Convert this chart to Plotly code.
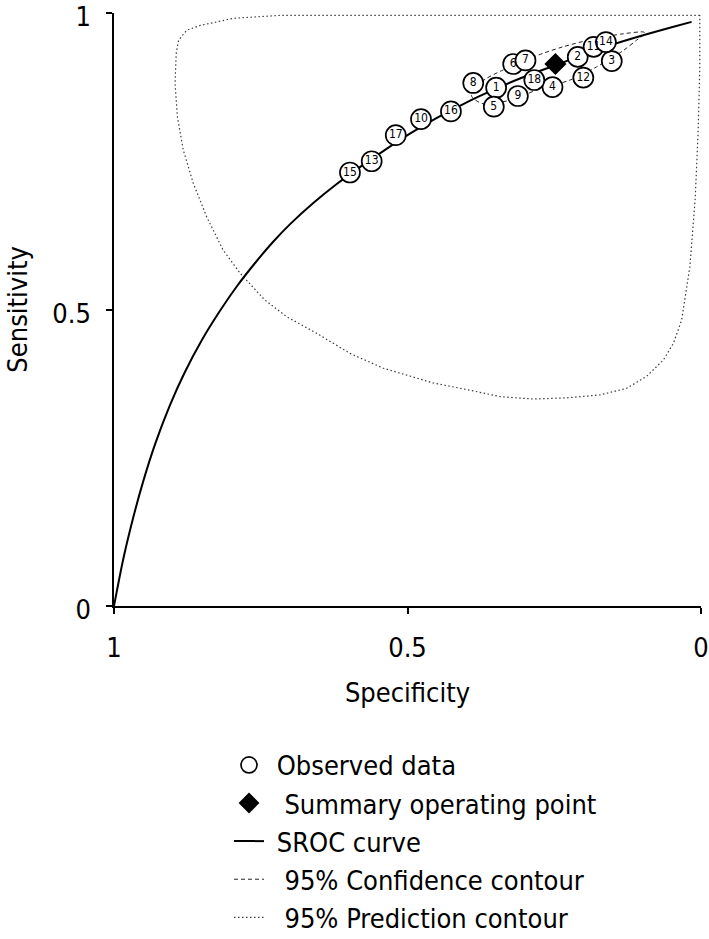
import plotly.graph_objects as go

# ---------------- data ----------------
study_ids = ["1", "2", "3", "4", "5", "6", "7", "8", "9", "10",
             "11", "12", "13", "14", "15", "16", "17", "18"]
study_spec = [0.349, 0.210, 0.152, 0.253, 0.353, 0.320, 0.299, 0.388, 0.312, 0.477,
              0.183, 0.2005, 0.561, 0.162, 0.598, 0.426, 0.520, 0.284]
study_sens = [0.874, 0.926, 0.919, 0.875, 0.842, 0.914, 0.920, 0.882, 0.860, 0.821,
              0.943, 0.891, 0.750, 0.951, 0.731, 0.834, 0.794, 0.887]

summary_spec = [0.248]
summary_sens = [0.914]

sroc_spec = [1.0, 0.984, 0.967, 0.950, 0.930, 0.905, 0.880, 0.850, 0.820, 0.790,
             0.760, 0.730, 0.700, 0.660, 0.620, 0.580, 0.540, 0.500, 0.450, 0.400,
             0.350, 0.300, 0.250, 0.200, 0.150, 0.100, 0.050, 0.016]
sroc_sens = [0.0, 0.080, 0.150, 0.211, 0.273, 0.338, 0.393, 0.449, 0.497, 0.540,
             0.578, 0.613, 0.644, 0.680, 0.712, 0.741, 0.768, 0.794, 0.823, 0.849,
             0.872, 0.893, 0.911, 0.930, 0.947, 0.962, 0.976, 0.985]

conf_spec = [0.391, 0.383, 0.365, 0.337, 0.308, 0.269, 0.235, 0.184, 0.132, 0.098,
             0.095, 0.110, 0.132, 0.178, 0.223, 0.280, 0.325, 0.371, 0.388, 0.391]
conf_sens = [0.861, 0.877, 0.890, 0.904, 0.917, 0.932, 0.943, 0.956, 0.965, 0.968,
             0.966, 0.954, 0.937, 0.909, 0.887, 0.870, 0.853, 0.847, 0.856, 0.861]

pred_spec = [0.002, 0.513, 0.717, 0.797, 0.853, 0.876, 0.890, 0.894, 0.896, 0.892,
             0.882, 0.865, 0.842, 0.814, 0.785, 0.743, 0.706, 0.655, 0.598, 0.541,
             0.456, 0.399, 0.342, 0.286, 0.229, 0.172, 0.127, 0.093, 0.064, 0.047,
             0.033, 0.019, 0.010, 0.005, 0.002, 0.002]
pred_sens = [0.996, 0.996, 0.996, 0.991, 0.979, 0.971, 0.954, 0.932, 0.881, 0.825,
             0.769, 0.713, 0.656, 0.600, 0.561, 0.516, 0.488, 0.460, 0.426, 0.401,
             0.376, 0.365, 0.353, 0.349, 0.351, 0.356, 0.367, 0.387, 0.415, 0.443,
             0.482, 0.572, 0.685, 0.797, 0.909, 0.996]

tick_vals = [0, 0.5, 1]
tick_text = ["0", "0.5", "1"]

x_title = "Specificity"
y_title = "Sensitivity"
legend_names = [" Observed data", "  Summary operating point", " SROC curve",
                "  95% Confidence contour", "  95% Prediction contour"]

FONT = "Liberation Sans Narrow, DejaVu Sans Condensed, Arial Narrow, sans-serif"

fig = go.Figure()

fig.add_trace(go.Scatter(
    x=pred_spec, y=pred_sens, mode="lines", name=legend_names[4], legendrank=5,
    line=dict(color="#3a3a3a", width=1.2, dash="1.5px,2.5px"), cliponaxis=False))
fig.add_trace(go.Scatter(
    x=conf_spec, y=conf_sens, mode="lines", name=legend_names[3], legendrank=4,
    line=dict(color="#222222", width=1, dash="4px,3px", shape="spline", smoothing=0.8)))
fig.add_trace(go.Scatter(
    x=sroc_spec, y=sroc_sens, mode="lines", name=legend_names[2], legendrank=3,
    line=dict(color="black", width=2, shape="spline", smoothing=0.8), cliponaxis=False))
fig.add_trace(go.Scatter(
    x=study_spec, y=study_sens, mode="markers", name=legend_names[0], legendrank=1,
    marker=dict(symbol="circle", size=20, color="white",
                line=dict(color="black", width=1.7)), cliponaxis=False))
fig.add_trace(go.Scatter(
    x=study_spec, y=study_sens, mode="text", text=study_ids, showlegend=False,
    textposition="middle center",
    textfont=dict(family=FONT, size=12, color="black"), cliponaxis=False))
fig.add_trace(go.Scatter(
    x=summary_spec, y=summary_sens, mode="markers", name=legend_names[1], legendrank=2,
    marker=dict(symbol="diamond", size=17, color="black",
                line=dict(color="black", width=0)), cliponaxis=False))

axis_common = dict(
    showgrid=False, zeroline=False, showline=True, linecolor="black", linewidth=1.5,
    ticks="outside", ticklen=6, tickwidth=1.5, tickcolor="black",
    tickvals=tick_vals, ticktext=tick_text, ticklabeloverflow="allow",
    tickfont=dict(family=FONT, size=27, color="black"),
)

fig.update_layout(
    width=709, height=939,
    margin=dict(l=114, r=8, t=13, b=333, autoexpand=False),
    paper_bgcolor="white", plot_bgcolor="white",
    font=dict(family=FONT, size=27, color="black"),
    xaxis=dict(range=[1, 0], autorange=False, ticklabelstandoff=11,
               title=dict(text=x_title, standoff=21,
                          font=dict(family=FONT, size=27, color="black")),
               **axis_common),
    yaxis=dict(range=[0, 1], autorange=False, ticklabelstandoff=10,
               ticklabelshift=4, **axis_common),
    annotations=[dict(text=y_title, xref="paper", yref="paper", x=-0.165, y=0.5,
                      xanchor="center", yanchor="middle", textangle=-90,
                      showarrow=False,
                      font=dict(family=FONT, size=27, color="black"))],
    showlegend=True,
    legend=dict(xref="container", yref="container", x=0.323, y=0.211,
                xanchor="left", yanchor="top",
                font=dict(family=FONT, size=27, color="black"),
                bgcolor="rgba(0,0,0,0)", itemwidth=30, traceorder="normal"),
)

fig.write_html("out.html")
